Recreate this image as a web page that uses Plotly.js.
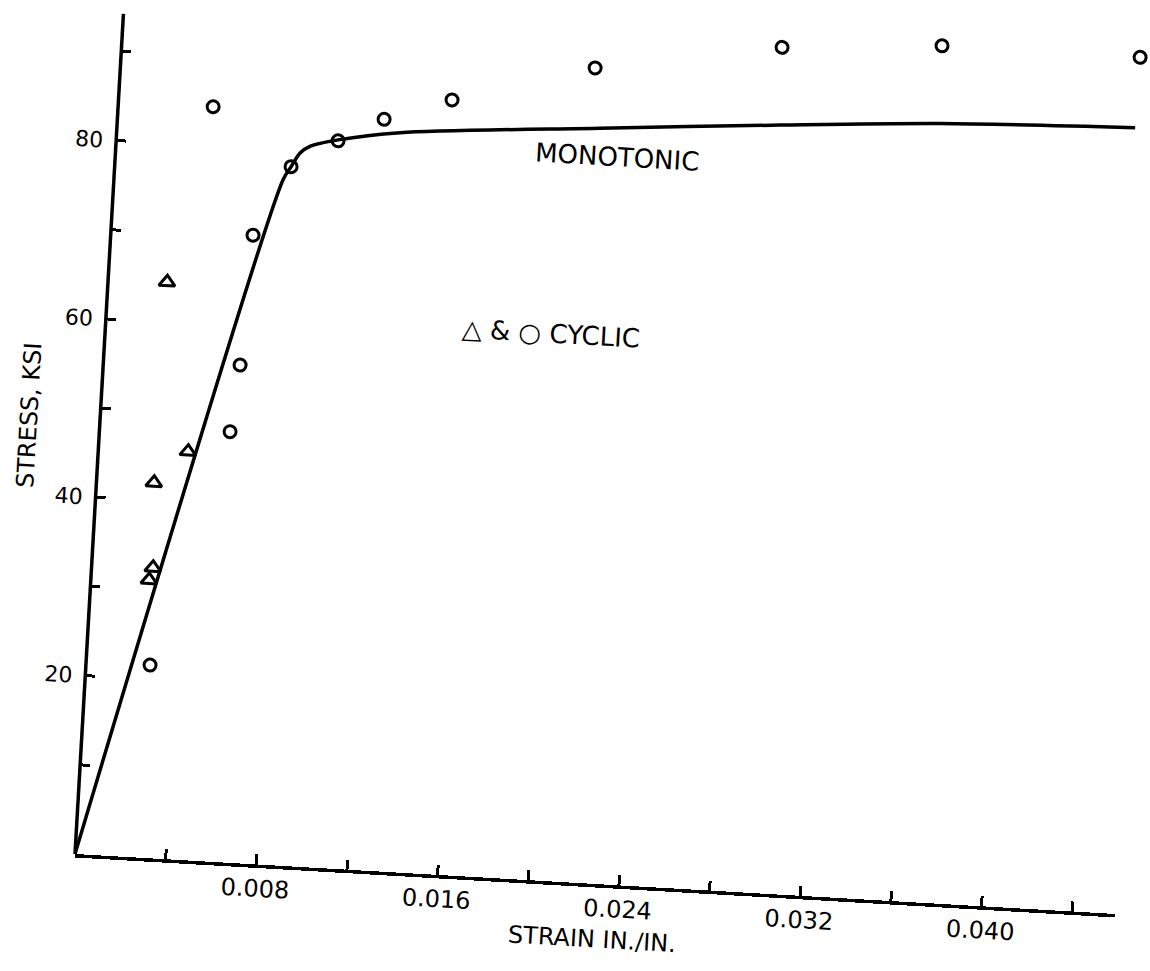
<!DOCTYPE html>
<html>
<head>
<meta charset="utf-8">
<script src="https://cdn.plot.ly/plotly-3.0.1.min.js"></script>
<style>
html, body { margin:0; padding:0; overflow:hidden; background:#ffffff; width:1150px; height:971px; }
#chart { position:absolute; left:-40px; top:-40px; width:1230px; height:1051px;
         transform-origin:115px 894px; transform:rotate(3.3deg); }
</style>
</head>
<body>
<div id="chart"></div>
<script>
// Monotonic stress-strain curve (strain in./in., stress ksi)
const monoStrain = [0, 0.00744, 0.00776, 0.00812, 0.00854, 0.00976, 0.01247, 0.02125, 0.02916, 0.03619, 0.04478];
const monoStress = [0, 76.7, 78.2, 79.8, 80.6, 81.5, 82.7, 84.5, 86.0, 87.2, 88.0];

// Cyclic data, circles
const circStrain = [0.00282, 0.00575, 0.00602, 0.00626, 0.00776, 0.00418, 0.00976, 0.01173, 0.01467, 0.02088, 0.02905, 0.03608, 0.04482];
const circStress = [21.6, 48.2, 55.7, 70.3, 78.2, 84.4, 81.4, 84.1, 86.7, 91.2, 94.7, 95.9, 95.9];

// Cyclic data, triangles
const triStrain = [0.00260, 0.00395, 0.00253, 0.00270, 0.00256];
const triStress = [64.5, 45.7, 42.0, 32.5, 31.1];

// Axis ticks
const xTickVals = [0.004, 0.008, 0.012, 0.016, 0.020, 0.024, 0.028, 0.032, 0.036, 0.040, 0.044];
const xTickText = ['', '0.008', '', '0.016', '', '0.024', '', '0.032', '', '0.040', ''];
const yTickVals = [10, 20, 30, 40, 50, 60, 70, 80, 90];
const yTickText = ['', '20', '', '40', '', '60', '', '80', ''];
const yAxisTop = 94.2;   // drawn length of the stress axis
const yRangeTop = 97.5;  // plotting range (room for the highest circles)

const FONT = 'DejaVu Sans, Liberation Sans, sans-serif';

const traces = [
  {
    x: monoStrain, y: monoStress, type: 'scatter', mode: 'lines',
    line: { color: '#000', width: 3.5, shape: 'spline', smoothing: 0.8 },
    showlegend: false, hoverinfo: 'skip'
  },
  {
    x: circStrain, y: circStress, type: 'scatter', mode: 'markers',
    marker: { symbol: 'circle-open', size: 12, color: '#000', line: { color: '#000', width: 3 } },
    showlegend: false
  },
  {
    x: triStrain, y: triStress, type: 'scatter', mode: 'markers',
    marker: { symbol: 'triangle-up-open', size: 14, color: '#000', line: { color: '#000', width: 3 } },
    showlegend: false
  }
];

// plot height = 97.5 ksi * 8.93 px ; origin stays at (115, 894) in the div
const plotH = yRangeTop * 8.93;
const layout = {
  width: 1230, height: 1051,
  margin: { l: 115, r: 73, t: 894 - plotH, b: 157 },
  paper_bgcolor: 'rgba(0,0,0,0)', plot_bgcolor: 'rgba(0,0,0,0)',
  font: { family: FONT, color: '#000', size: 24 },
  showlegend: false,
  xaxis: {
    range: [0, 0.0459], showgrid: false, zeroline: false,
    showline: true, linecolor: '#000', linewidth: 3.5,
    ticks: 'inside', ticklen: 10, tickwidth: 3, tickcolor: '#000',
    tickvals: xTickVals, ticktext: xTickText,
    tickfont: { family: FONT, size: 24, color: '#000' },
    ticklabelstandoff: 0,
    title: { text: 'STRAIN IN./IN.', font: { family: FONT, size: 24, color: '#000' }, standoff: 10 }
  },
  yaxis: {
    range: [0, yRangeTop], showgrid: false, zeroline: false,
    showline: false,
    ticks: 'inside', ticklen: 10, tickwidth: 3, tickcolor: '#000',
    tickvals: yTickVals, ticktext: yTickText,
    tickfont: { family: FONT, size: 22, color: '#000' },
    ticklabelstandoff: 12,
    title: { text: 'STRESS, KSI', font: { family: FONT, size: 24, color: '#000' }, standoff: 14 }
  },
  shapes: [
    { type: 'line', xref: 'paper', yref: 'y', x0: 0, x1: 0, y0: 0, y1: yAxisTop,
      line: { color: '#000', width: 3.5 } }
  ],
  annotations: [
    { x: 0.01836, y: 81.4, xref: 'x', yref: 'y', xanchor: 'left', yanchor: 'middle',
      text: 'MONOTONIC', showarrow: false, font: { family: FONT, size: 26, color: '#000' } },
    { x: 0.0156, y: 61.2, xref: 'x', yref: 'y', xanchor: 'left', yanchor: 'middle',
      text: '△ &amp; ○ CYCLIC', showarrow: false, font: { family: FONT, size: 26, color: '#000' } }
  ]
};

Plotly.newPlot('chart', traces, layout, { staticPlot: true, displayModeBar: false });
</script>
</body>
</html>
